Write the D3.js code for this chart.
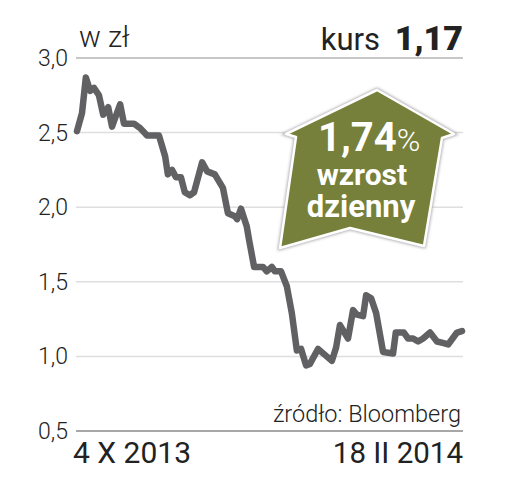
<!DOCTYPE html>
<html>
<head>
<meta charset="utf-8">
<script src="https://cdn.jsdelivr.net/npm/d3@7"></script>
<style>
  body { margin: 0; background: #fff; }
  text { font-family: Roboto, sans-serif; fill: #222; }
</style>
</head>
<body>
<svg id="chart" width="511" height="498"></svg>
<script>
// session position along the axis, 0 = 4 X 2013, 100 = 18 II 2014
var sessions = [0,1.3,2.3,3.4,4.4,5.7,6.8,8.1,9.1,11.2,12.2,14.8,16.4,18.2,21.3,22.9,23.6,24.7,25.7,27,28,29.3,30.4,32.5,33.8,35.8,37.9,39.2,41,41.6,42.6,44.1,44.7,46,48.3,49.3,50.6,51.4,53,54.5,55.8,57.1,58.2,59.5,60.5,62.6,64.4,66.2,67.3,68.3,70.4,71.7,72.7,74.3,75.1,76.4,77.7,79.5,82.1,82.8,84.9,86,87.3,88.6,89.9,91.7,93.5,95,96.4,98.7,100];
var prices = [2.51,2.63,2.87,2.78,2.80,2.75,2.62,2.67,2.54,2.69,2.56,2.56,2.53,2.48,2.48,2.34,2.22,2.25,2.20,2.20,2.10,2.08,2.10,2.30,2.24,2.22,2.13,1.96,1.94,1.92,1.99,1.87,1.78,1.60,1.60,1.57,1.60,1.57,1.57,1.47,1.29,1.04,1.05,0.94,0.95,1.05,1.01,0.97,1.06,1.21,1.12,1.31,1.28,1.27,1.41,1.39,1.29,1.03,1.02,1.16,1.16,1.12,1.12,1.10,1.12,1.16,1.10,1.09,1.08,1.16,1.17];
var yTicks = [3.0, 2.5, 2.0, 1.5, 1.0, 0.5];
var xLabels = ["4 X 2013", "18 II 2014"];

var svg = d3.select("#chart");

var x = d3.scaleLinear().domain([0, 100]).range([77, 462]);
var y = d3.scaleLinear().domain([0.5, 3.0]).range([431, 58]);
var polish = function(d) { return d.toFixed(1).replace(".", ","); };

// grid lines, the top and the bottom one are darker
svg.append("g").selectAll("line")
    .data(yTicks)
    .enter().append("line")
    .attr("x1", 76)
    .attr("x2", 463)
    .attr("y1", function(d) { return y(d); })
    .attr("y2", function(d) { return y(d); })
    .attr("stroke", function(d) { return d == 0.5 ? "#8a8a8a" : d == 3.0 ? "#b5b5b5" : "#dedede"; })
    .attr("stroke-width", 1.5);

svg.append("g").selectAll("text")
    .data(yTicks)
    .enter().append("text")
    .attr("x", 68)
    .attr("y", function(d) { return y(d) + 8; })
    .attr("text-anchor", "end")
    .style("font-size", "23px")
    .style("font-weight", 300)
    .text(polish);

var line = d3.line()
    .x(function(d, i) { return x(sessions[i]); })
    .y(function(d) { return y(d); });

svg.append("path")
    .datum(prices)
    .attr("d", line)
    .attr("fill", "none")
    .attr("stroke", "#616164")
    .attr("stroke-width", 6.5)
    .attr("stroke-linejoin", "round")
    .attr("stroke-linecap", "round");

// headers
svg.append("text").attr("x", 79).attr("y", 47)
    .style("font-size", "29px").style("font-weight", 300).text("w zł");
svg.append("text").attr("x", 380).attr("y", 50).attr("text-anchor", "end")
    .style("font-size", "31px").text("kurs");
svg.append("text").attr("x", 463).attr("y", 50).attr("text-anchor", "end")
    .style("font-size", "34px").style("font-weight", 900).text("1,17");

svg.append("text").attr("x", 461).attr("y", 422).attr("text-anchor", "end")
    .style("font-size", "23.5px").style("font-weight", 300).text("źródło: Bloomberg");
svg.append("text").attr("x", 73).attr("y", 463)
    .style("font-size", "30px").text(xLabels[0]);
svg.append("text").attr("x", 463).attr("y", 463).attr("text-anchor", "end")
    .style("font-size", "29.5px").text(xLabels[1]);

// arrow badge
var shadow = svg.append("defs").append("filter").attr("id", "soft");
shadow.append("feGaussianBlur").attr("stdDeviation", 1.5);

var arrow = "M377,90 L454,134 L442,138 L424,246 L350,228 L280,248 L296,137 L286,134 Z";
svg.append("path").attr("d", arrow).attr("fill", "#a9a9b0")
    .attr("stroke", "#a9a9b0").attr("stroke-width", 4).attr("filter", "url(#soft)");
svg.append("path").attr("d", arrow).attr("fill", "#76803a")
    .attr("stroke", "#fff").attr("stroke-width", 2.5).attr("stroke-linejoin", "round");

var pct = svg.append("text").attr("x", 318).attr("y", 151).style("fill", "#fff");
pct.append("tspan").style("font-size", "40px").style("font-weight", 700).style("fill", "#fff").text("1,74");
pct.append("tspan").style("font-size", "32px").style("font-weight", 300).style("fill", "#fff").text("%");
svg.append("text").attr("x", 362).attr("y", 185).attr("text-anchor", "middle")
    .style("font-size", "30px").style("font-weight", 700).style("fill", "#fff").text("wzrost");
svg.append("text").attr("x", 361).attr("y", 217).attr("text-anchor", "middle")
    .style("font-size", "31px").style("font-weight", 700).style("fill", "#fff").text("dzienny");
</script>
</body>
</html>
